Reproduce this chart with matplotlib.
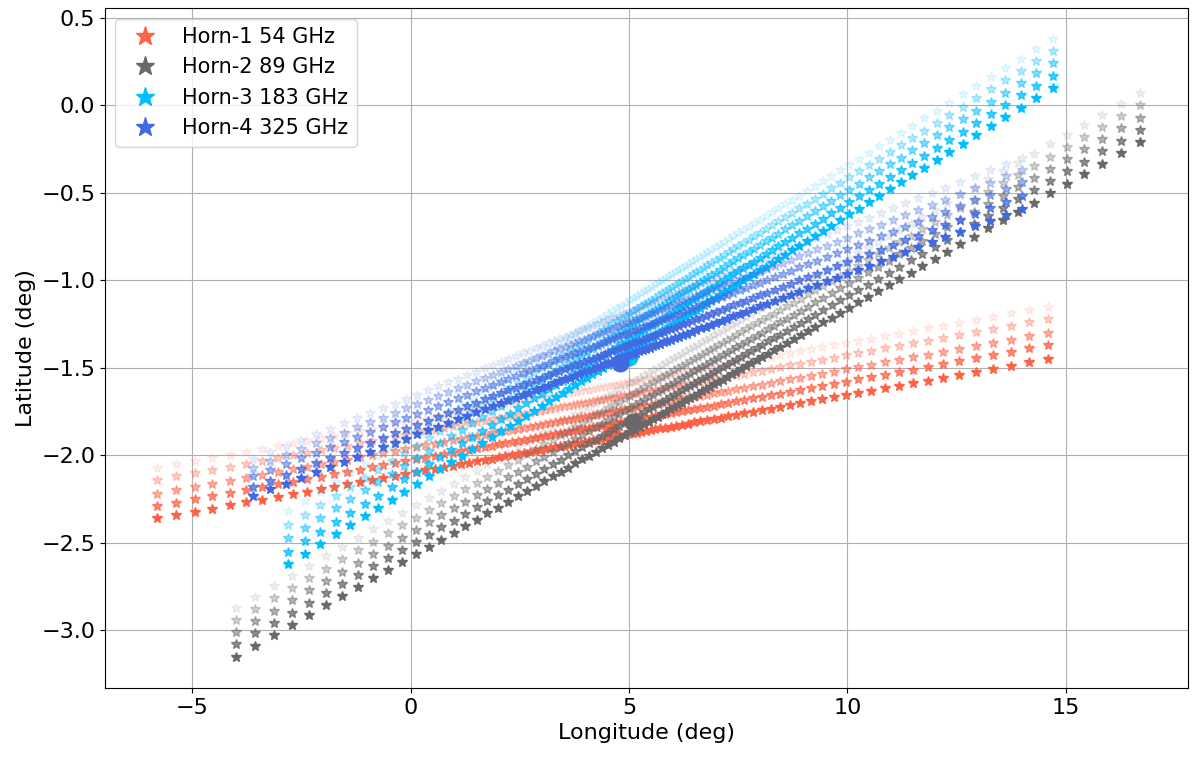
import numpy as np
import matplotlib
matplotlib.use('Agg')
import matplotlib.pyplot as plt

horns = ["Horn-1 54 GHz", "Horn-2 89 GHz", "Horn-3 183 GHz", "Horn-4 325 GHz"]
colors = ["tomato", "dimgray", "deepskyblue", "royalblue"]
# scan line end points per horn: (lon_start, lon_end), lat at start / end for each of 5 lines
lon_start = [-5.8, -4.0, -2.8, -3.6]
lon_end = [14.6, 16.7, 14.7, 14.0]
lat_start = [[-2.07, -2.14, -2.22, -2.29, -2.36],
             [-2.87, -2.94, -3.01, -3.08, -3.15],
             [-2.32, -2.40, -2.47, -2.55, -2.62],
             [-2.02, -2.07, -2.12, -2.18, -2.23]]
lat_end = [[-1.15, -1.22, -1.30, -1.37, -1.45],
           [0.07, 0.00, -0.07, -0.14, -0.21],
           [0.38, 0.31, 0.24, 0.17, 0.10],
           [-0.30, -0.37, -0.44, -0.52, -0.59]]
alphas = [0.1, 0.3, 0.5, 0.75, 1.0]
center_lon = [4.6, 5.1, 5.0, 4.8]
center_lat = [-1.88, -1.81, -1.44, -1.47]
n_pts = 100

fig, ax = plt.subplots(figsize=(12, 7.57), dpi=100)
t = np.linspace(-1, 1, n_pts)
s = (0.43 * t + 0.57 * t ** 3 + 1) / 2
for h in range(4):
    for k in range(5):
        x = lon_start[h] + (lon_end[h] - lon_start[h]) * s
        y = lat_start[h][k] + (lat_end[h][k] - lat_start[h][k]) * s
        ax.plot(x, y, '*', color=colors[h], alpha=alphas[k], markersize=7,
                label=horns[h] if k == 4 else None)
    ax.plot(center_lon[h], center_lat[h], 'o', color=colors[h], markersize=12)

ax.set_xlim(-7.0, 17.8)
ax.set_ylim(-3.33, 0.554)
ax.grid(True)
ax.set_axisbelow(True)
ax.tick_params(labelsize=16)
ax.set_xlabel("Longitude (deg)", fontsize=16)
ax.set_ylabel("Latitude (deg)", fontsize=16)
ax.legend(loc='upper left', fontsize=15, markerscale=2)
fig.subplots_adjust(left=0.0875, right=0.99, top=0.989, bottom=0.091)
fig.savefig('out.png')
